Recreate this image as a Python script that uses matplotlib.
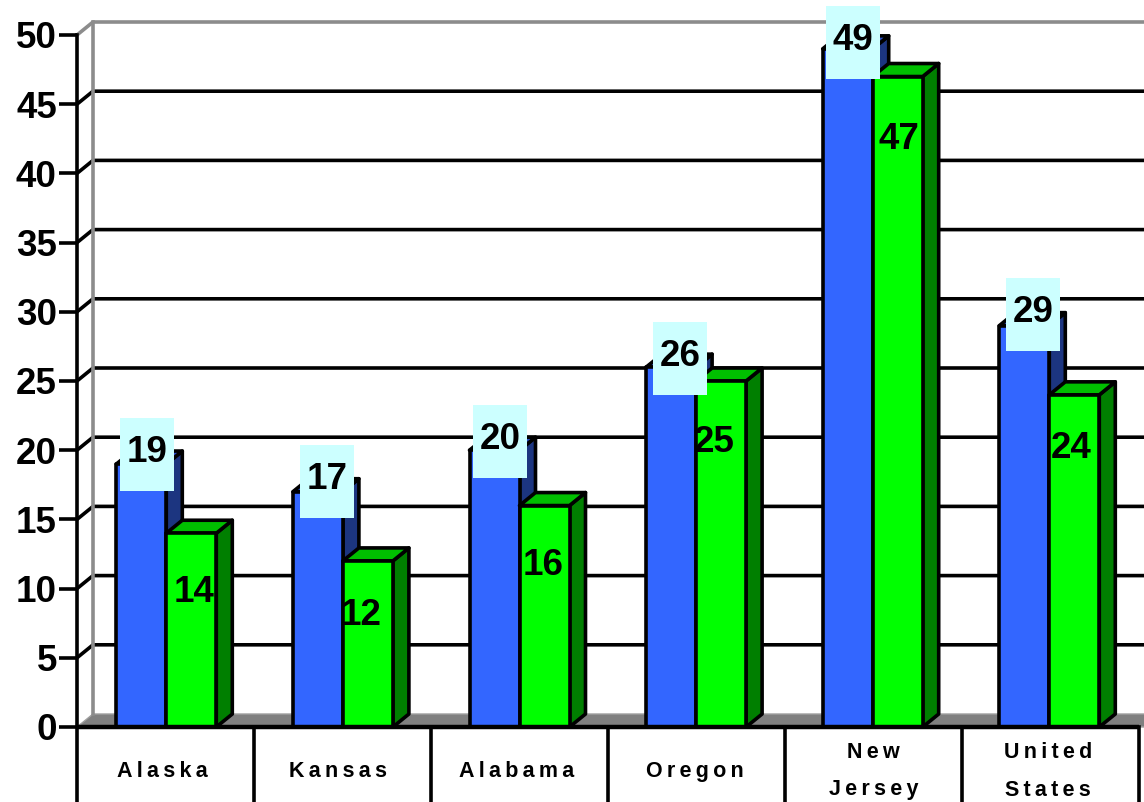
import matplotlib
matplotlib.use('Agg')
import matplotlib.pyplot as plt
from matplotlib.patches import Polygon, Rectangle

categories = ['Alaska', 'Kansas', 'Alabama', 'Oregon', 'New\nJersey', 'United\nStates']
blue_values = [19, 17, 20, 26, 49, 29]
green_values = [14, 12, 16, 25, 47, 24]
y_ticks = [0, 5, 10, 15, 20, 25, 30, 35, 40, 45, 50]

# label nudges in pixels, from group centre / bar top
blue_dx = [-19, -16, -19.5, -16, -20, -16.6]
blue_dy = [9.5, 10, 8.7, 8.5, 6.5, 11.5]
green_dx = [28, 18, 23.5, 18, 26, 22]
green_dy = [-57, -53, -58, -60, -61, -52]
category_dx = [-3, -4, -2, 0, 2, 0]

plt.rcParams['font.family'] = ['Liberation Sans', 'DejaVu Sans']
W, H = 1144, 802
LEFT, BASE, TOP = 77, 727, 35
GROUP = 176.6
UNIT = (BASE - TOP) / 50.0
DX = 16 / GROUP     # depth of the 3d effect
DY = 13 / UNIT
BAR = 50 / GROUP
LW = 2.6
NUM_SIZE = 26.5

BLUE, BLUE_TOP, BLUE_SIDE = '#3366FF', '#2A50C8', '#1C3580'
GREEN, GREEN_TOP, GREEN_SIDE = '#00FF00', '#00BF00', '#007F00'

fig = plt.figure(figsize=(W / 100, H / 100), dpi=100)
ax = fig.add_axes([LEFT / W, (H - BASE) / H, (W - LEFT) / W, (BASE - TOP) / H])
xmax = (W - LEFT) / GROUP
ax.set_xlim(0, xmax)
ax.set_ylim(0, 50)
for s in ax.spines.values():
    s.set_visible(False)
ax.patch.set_visible(False)

ax.set_xticks([])
ax.set_yticks(y_ticks)
ax.tick_params(axis='y', length=13, width=LW, pad=1.5, labelsize=NUM_SIZE)
for t in ax.get_yticklabels():
    t.set_fontweight('bold')

# floor
ax.add_patch(Polygon([(0, 0), (DX, DY), (xmax + DX, DY), (xmax, 0)],
                     fc='#808080', ec='#A0A0A0', lw=1, clip_on=False, zorder=1))
# back wall and gridlines
for v in y_ticks[1:-1]:
    ax.plot([0, DX, xmax], [v, v + DY, v + DY], color='black', lw=LW,
            clip_on=False, zorder=1, solid_capstyle='butt')
ax.plot([0, DX, xmax], [50, 50 + DY, 50 + DY], color='#8C8C8C', lw=LW, clip_on=False, zorder=1)
ax.plot([DX, DX], [DY, 50 + DY], color='#8C8C8C', lw=LW, clip_on=False, zorder=1)
ax.plot([0, 0], [-75 / UNIT, 50], color='black', lw=LW, clip_on=False, zorder=2)


def bar3d(x0, x1, v, front, top, side, z):
    kw = dict(ec='black', lw=LW, joinstyle='round', clip_on=False, zorder=z)
    ax.add_patch(Polygon([(x1, 0), (x1 + DX, DY), (x1 + DX, v + DY), (x1, v)], fc=side, **kw))
    ax.add_patch(Polygon([(x0, v), (x0 + DX, v + DY), (x1 + DX, v + DY), (x1, v)], fc=top, **kw))
    ax.add_patch(Rectangle((x0, 0), x1 - x0, v, fc=front, **kw))


centres = [i + 0.5 + 1 / GROUP for i in range(len(categories))]
for i, c in enumerate(centres):
    bar3d(c - BAR, c, blue_values[i], BLUE, BLUE_TOP, BLUE_SIDE, 3)
    bar3d(c, c + BAR, green_values[i], GREEN, GREEN_TOP, GREEN_SIDE, 4)

# value labels
for i, c in enumerate(centres):
    bx = c + blue_dx[i] / GROUP
    by = blue_values[i] + blue_dy[i] / UNIT
    bw = 54 / GROUP
    bh = 73 / UNIT
    ax.add_patch(Rectangle((bx - bw / 2, by - bh / 2), bw, bh, fc='#CCFFFF', ec='none',
                           clip_on=False, zorder=6))
    ax.text(bx, by + 2 / UNIT, str(blue_values[i]), ha='center', va='center', fontsize=NUM_SIZE,
            fontweight='bold', clip_on=False, zorder=7)
    ax.text(c + green_dx[i] / GROUP, green_values[i] + (green_dy[i] - 2) / UNIT, str(green_values[i]),
            ha='center', va='center', fontsize=NUM_SIZE, fontweight='bold', zorder=7)

# category table under the axis
TABLE_STEP = 177 / GROUP
ax.plot([0, 6 * TABLE_STEP], [0, 0], color='black', lw=3.2, clip_on=False, zorder=5, solid_capstyle='butt')
for i in range(1, len(categories) + 1):
    ax.plot([i * TABLE_STEP] * 2, [0, -75 / UNIT], color='black', lw=LW, clip_on=False, zorder=2)
for i, name in enumerate(categories):
    spaced = '\n'.join('\u2009'.join(part) for part in name.split('\n'))
    ax.text(i + 0.5 + category_dx[i] / GROUP, -44.5 / UNIT, spaced, ha='center', va='center', fontsize=15.5,
            fontweight='bold', linespacing=2.0, clip_on=False)

fig.savefig('out.png', dpi=100)
